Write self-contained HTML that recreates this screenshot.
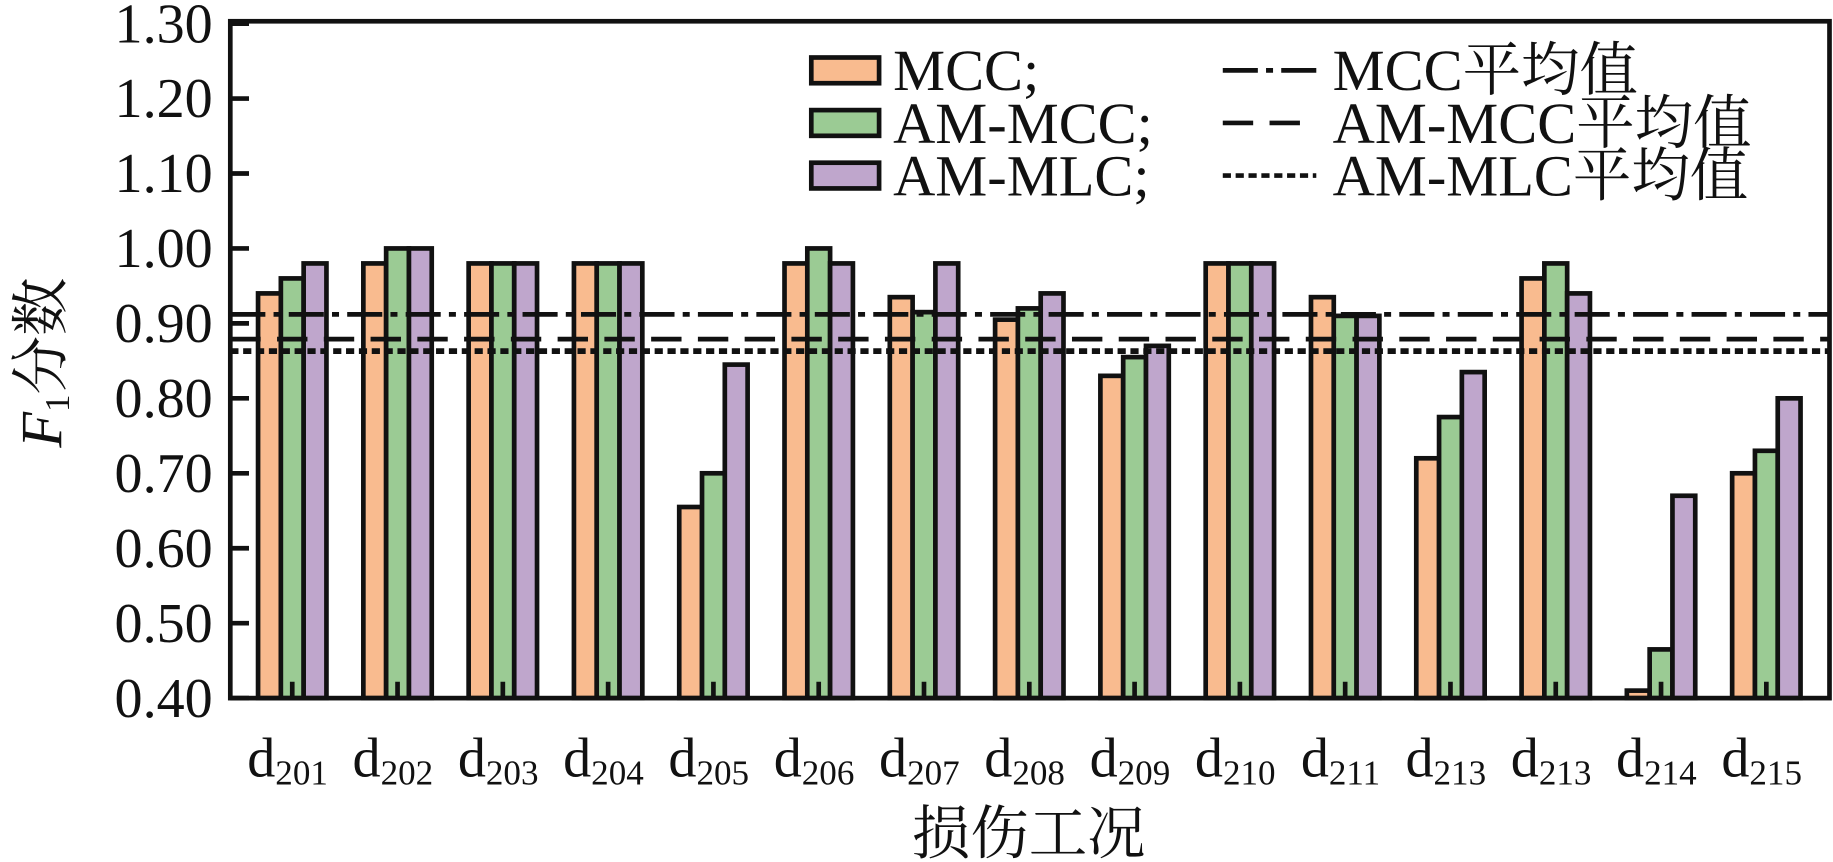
<!DOCTYPE html>
<html><head><meta charset="utf-8"><style>
html,body{margin:0;padding:0;background:#fff;}
svg{display:block;}
text{font-family:"Liberation Serif","Noto Serif CJK SC",serif;fill:#111;}
</style></head><body>
<svg id="chart" width="1833" height="862" viewBox="0 0 1568 737" xmlns="http://www.w3.org/2000/svg">
<g id="plot"></g>
</svg>
<script>
const categories=["201","202","203","204","205","206","207","208","209","210","211","213","213","214","215"];
const mccValues=[0.94,0.98,0.98,0.98,0.655,0.98,0.935,0.905,0.83,0.98,0.935,0.72,0.96,0.41,0.70];
const amMccValues=[0.96,1.00,0.98,0.98,0.70,1.00,0.915,0.92,0.855,0.98,0.91,0.775,0.98,0.465,0.73];
const amMlcValues=[0.98,1.00,0.98,0.98,0.845,0.98,0.98,0.94,0.87,0.98,0.91,0.835,0.94,0.67,0.80];
const meanValues=[0.912,0.879,0.863];
const yTicks=[0.40,0.50,0.60,0.70,0.80,0.90,1.00,1.10,1.20,1.30];
const NS="http://www.w3.org/2000/svg";
const L=197,R=1565,T=20,B=597,yMin=0.4,yMax=1.3;
const y=v=>B-(v-yMin)/(yMax-yMin)*(B-T);
const x=i=>250+90.07*i;
const g=document.getElementById('plot');
function mk(tag,attrs,parent){const e=document.createElementNS(NS,tag);for(const k in attrs)e.setAttribute(k,attrs[k]);(parent||g).appendChild(e);return e;}
const colors=["#f9bb8f","#9bcb94","#bfa6cc"];
const series=[mccValues,amMccValues,amMlcValues];
const names=["mcc","am-mcc","am-mlc"];
const bw=19.5;
series.forEach((s,si)=>{s.forEach((v,i)=>{
 const r=mk('rect',{x:x(i)-1.5*bw+si*bw,y:y(v),width:bw,height:B-y(v),fill:colors[si],stroke:'#111','stroke-width':4});
 
 
});});
categories.forEach((c,i)=>{const t=mk('line',{x1:x(i),x2:x(i),y1:B,y2:B-14,stroke:'#111','stroke-width':4});
 
 
 const tx=mk('text',{x:x(i)-4,y:664,'font-size':48,'text-anchor':'middle'});
 
 
 tx.innerHTML='d<tspan font-size="30" dy="7">'+c+'</tspan>';
});
const dashes=["30,7,6,7","26,14","7,4"];
const mnames=["mcc-mean-line","am-mcc-mean-line","am-mlc-mean-line"];
meanValues.forEach((m,k)=>{const l=mk('line',{x1:L,x2:R,y1:y(m),y2:y(m),stroke:'#111','stroke-width':k==2?5:4,'stroke-dasharray':dashes[k]});
 
 
});
yTicks.forEach(v=>{const t=mk('line',{x1:L,x2:L+16,y1:y(v),y2:y(v),stroke:'#111','stroke-width':4});
 
 
 const tx=mk('text',{x:182,y:y(v)+16,'font-size':48,'text-anchor':'end'});
 
 
 tx.textContent=v.toFixed(2);
});
const fr=mk('rect',{x:L,y:T-2,width:R-L,height:B-T+2,fill:'none',stroke:'#111','stroke-width':4});


const lg=mk('g',{});


const labs=["MCC;","AM-MCC;","AM-MLC;"];
const mlabs=["MCC平均值","AM-MCC平均值","AM-MLC平均值"];
[60,105,150].forEach((yy,k)=>{
 const s=mk('rect',{x:694,y:yy-11,width:58,height:22,fill:colors[k],stroke:'#111','stroke-width':4},lg);
 
 
 const t=mk('text',{x:764,y:yy+17,'font-size':50},lg);
 
 
 t.textContent=labs[k];
 const l=mk('line',{x1:1046,x2:1126,y1:yy,y2:yy,stroke:'#111','stroke-width':4,'stroke-dasharray':dashes[k]},lg);
 
 
 const t2=mk('text',{x:1140,y:yy+17,'font-size':50},lg);
 
 
 t2.textContent=mlabs[k];
});
const xt=mk('text',{x:880,y:730,'font-size':50,'text-anchor':'middle'});


xt.textContent='损伤工况';
const yt=mk('text',{x:0,y:0,'font-size':50,'text-anchor':'middle',transform:'translate(52,310) rotate(-90)'});


yt.innerHTML='<tspan font-style="italic">F</tspan><tspan font-size="30" dy="7">1</tspan><tspan dy="-7">分数</tspan>';
</script>
</body></html>
